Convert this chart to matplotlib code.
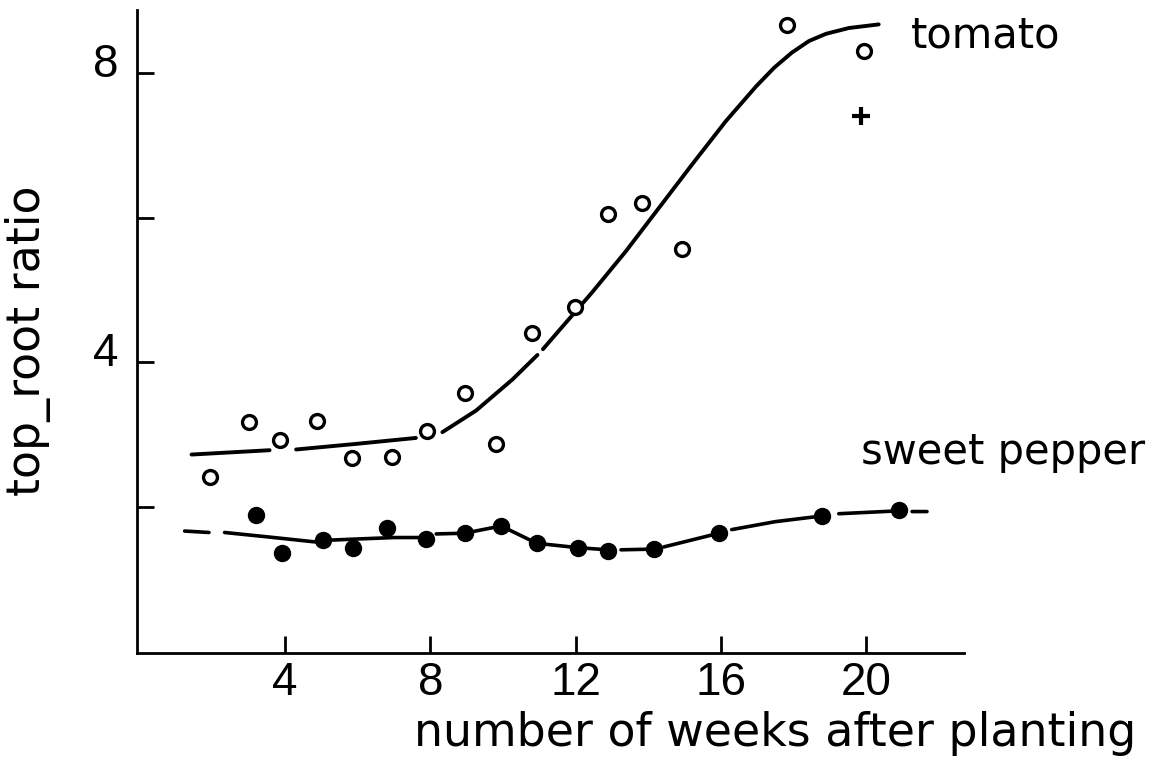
import numpy as np
import matplotlib
matplotlib.use("Agg")
import matplotlib.pyplot as plt
import matplotlib.transforms as mtransforms

nan = np.nan

# ---- data ----
tomato_weeks = [1.93, 3.0, 3.86, 4.87, 5.84, 6.93, 7.9, 8.95, 9.82, 10.8,
                11.97, 12.9, 13.84, 14.92, 17.82, 19.95]
tomato_ratio = [2.41, 3.17, 2.92, 3.19, 2.67, 2.68, 3.04, 3.57, 2.87, 4.40,
                4.76, 6.05, 6.20, 5.57, 8.67, 8.31]
tomato_plus_week = [19.85]
tomato_plus_ratio = [7.41]

pepper_weeks = [3.19, 3.9, 5.04, 5.88, 6.8, 7.88, 8.94, 9.95, 10.93, 12.06,
                12.88, 14.16, 15.95, 18.8, 20.9]
pepper_ratio = [1.88, 1.36, 1.53, 1.43, 1.70, 1.55, 1.63, 1.73, 1.49, 1.43,
                1.39, 1.41, 1.63, 1.87, 1.95]

# hand-drawn fitted curves (nan = pen lifted)
tomato_curve_weeks = [1.42, 3.57, nan, 4.30, 6.0, 7.6, nan, 8.33, 9.26, 10.26,
                      10.95, nan, 11.1, 12.46, 13.39, 14.30, 15.21, 16.14,
                      16.97, 17.47, 17.96, 18.43, 18.90, 19.53, 20.35]
tomato_curve_ratio = [2.72, 2.78, nan, 2.79, 2.87, 2.95, nan, 3.03, 3.33, 3.76,
                      4.10, nan, 4.18, 4.97, 5.54, 6.14, 6.74, 7.34,
                      7.82, 8.08, 8.29, 8.45, 8.55, 8.63, 8.68]

pepper_curve_weeks = [1.23, 1.90, nan, 2.33, 3.5, 4.81, 5.04, 6.0, 7.0, 7.88,
                      nan, 8.16, 8.94, 9.95, 10.93, 12.06, 12.88, 13.07, nan,
                      13.25, 14.16, nan, 14.43, 15.95, nan, 16.30, 17.5, 18.80,
                      nan, 19.25, 20.90, nan, 21.27, 21.68]
pepper_curve_ratio = [1.66, 1.64, nan, 1.64, 1.58, 1.51, 1.53, 1.55, 1.57, 1.57,
                      nan, 1.62, 1.63, 1.73, 1.49, 1.43, 1.40, 1.41, nan,
                      1.40, 1.41, nan, 1.44, 1.63, nan, 1.68, 1.79, 1.87,
                      nan, 1.90, 1.94, nan, 1.93, 1.93]

x_ticks = [4, 8, 12, 16, 20]
x_tick_labels = ["4", "8", "12", "16", "20"]
y_ticks = [2, 4, 6, 8]
y_tick_labels = ["", "4", "", "8"]

x_label = "number of weeks after planting"
y_label = "top_root ratio"
tomato_name = "tomato"
pepper_name = "sweet pepper"

# ---- figure ----
fig = plt.figure(figsize=(11.57, 7.61), dpi=100)
fig.patch.set_facecolor("white")
ax = fig.add_axes([0.1188, 0.1419, 0.7144, 0.845])

ax.plot(tomato_curve_weeks, tomato_curve_ratio, color="black", lw=2.8,
        solid_capstyle="round", solid_joinstyle="round")
ax.plot(pepper_curve_weeks, pepper_curve_ratio, color="black", lw=2.6,
        solid_capstyle="round", solid_joinstyle="round")

ax.plot(tomato_weeks, tomato_ratio, linestyle="none", marker="o", ms=10,
        mfc="white", mec="black", mew=2.4)
ax.plot(tomato_plus_week, tomato_plus_ratio, linestyle="none", marker="+",
        ms=13, mec="black", mew=3.0)
ax.plot(pepper_weeks, pepper_ratio, linestyle="none", marker="o", ms=11.5,
        mfc="black", mec="black")

ax.set_xlim(-0.07, 22.7)
ax.set_ylim(-0.03, 8.88)

for s in ["top", "right"]:
    ax.spines[s].set_visible(False)
for s in ["left", "bottom"]:
    ax.spines[s].set_linewidth(2.0)
    ax.spines[s].set_color("black")

digit_font = ["Liberation Sans", "DejaVu Sans"]
ax.set_xticks(x_ticks)
ax.set_xticklabels(x_tick_labels, fontsize=33, family=digit_font)
ax.set_yticks(y_ticks)
ax.set_yticklabels(y_tick_labels, fontsize=33, family=digit_font)
ax.tick_params(axis="both", direction="in", length=12, width=2.0,
               colors="black")
ax.tick_params(axis="x", pad=6)
ax.tick_params(axis="y", pad=14)

offset = mtransforms.ScaledTranslation(0, 13 / 100, fig.dpi_scale_trans)
for lab in ax.get_yticklabels():
    lab.set_transform(lab.get_transform() + offset)

fig.text(775 / 1157, 1 - 734 / 761, x_label, fontsize=33, ha="center",
         va="center", family="DejaVu Sans")
fig.text(28 / 1157, 1 - 341 / 761, y_label, fontsize=33, ha="center",
         va="center", rotation=90, family="DejaVu Sans")

ax.text(21.23, 8.36, tomato_name, fontsize=30, ha="left", va="baseline",
        clip_on=False, family="DejaVu Sans")
ax.text(19.86, 2.59, pepper_name, fontsize=30, ha="left", va="baseline",
        clip_on=False, family="DejaVu Sans")

fig.savefig("out.png", dpi=100, facecolor="white")
